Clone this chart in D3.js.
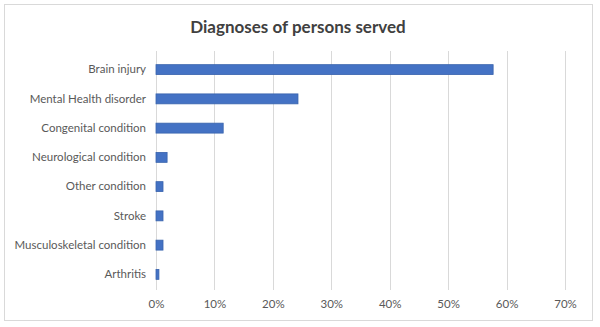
<!DOCTYPE html>
<html><head><meta charset="utf-8">
<script src="https://cdn.jsdelivr.net/npm/d3@7"></script>
<style>body{margin:0;background:#fff}svg{display:block}</style>
</head><body>
<script>
const categories = ["Brain injury","Mental Health disorder","Congenital condition","Neurological condition","Other condition","Stroke","Musculoskeletal condition","Arthritis"];
const values = [0.577,0.243,0.115,0.019,0.012,0.012,0.012,0.005];
const tickValues = [0,0.1,0.2,0.3,0.4,0.5,0.6,0.7];
const title = "Diagnoses of persons served";

const W=600,H=327;
const svg=d3.select("body").append("svg").attr("width",W).attr("height",H);
svg.append("rect").attr("x",4.5).attr("y",4.5).attr("width",588).attr("height",316).attr("fill","#fff").attr("stroke","#d9d9d9");
svg.append("text").attr("x",298).attr("y",33).attr("text-anchor","middle")
  .attr("font-family","Lato, 'Open Sans', sans-serif").attr("font-weight","bold").attr("font-size",17).attr("fill","#404040").text(title);

const x=d3.scaleLinear().domain([0,0.7]).range([156,565]);
const y=d3.scaleBand().domain(categories).range([55,289]).paddingInner(0.66).paddingOuter(0.33);

svg.append("g").selectAll("line").data(tickValues).join("line")
  .attr("x1",d=>Math.round(x(d))+0.5).attr("x2",d=>Math.round(x(d))+0.5).attr("y1",51).attr("y2",290)
  .attr("stroke","#d9d9d9").attr("stroke-width",1);

svg.append("g").selectAll("rect").data(values).join("rect")
  .attr("x",x(0)).attr("y",(d,i)=>y(categories[i])).attr("width",d=>x(d)-x(0)).attr("height",y.bandwidth())
  .attr("fill","#4472C4").attr("stroke","#3a64ad").attr("stroke-width",0.8);

const yAxis=svg.append("g").attr("transform","translate(156,0)").call(d3.axisLeft(y).tickSize(0).tickPadding(10));
yAxis.select(".domain").remove();
yAxis.selectAll("text").attr("font-family","Lato, 'Open Sans', sans-serif").attr("font-size",11.5).attr("fill","#595959");

const xAxis=svg.append("g").attr("transform","translate(0,290)").call(d3.axisBottom(x).tickValues(tickValues).tickFormat(d3.format(".0%")).tickSize(0).tickPadding(10));
xAxis.select(".domain").remove();
xAxis.selectAll("text").attr("font-family","Lato, 'Open Sans', sans-serif").attr("font-size",11.5).attr("fill","#595959");
</script>
</body></html>
